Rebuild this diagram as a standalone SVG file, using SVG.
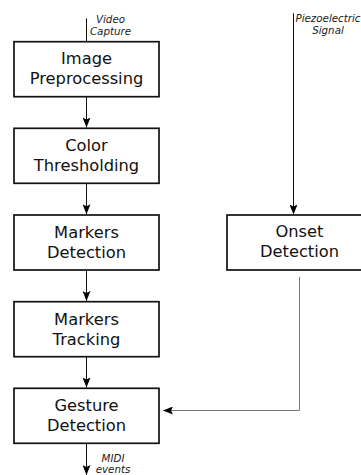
<svg xmlns="http://www.w3.org/2000/svg" width="361" height="475" viewBox="0 0 361 475">
<style>
.box{fill:#fff;stroke:#111;stroke-width:1.7}
.lbl{font-family:"DejaVu Sans",sans-serif;font-size:16.3px;fill:#111;text-anchor:middle}
.io{font-family:"DejaVu Sans",sans-serif;font-size:10.3px;font-style:italic;fill:#222;text-anchor:middle}
.ln{fill:none;stroke:#111;stroke-width:1}
.gr{fill:none;stroke:#777;stroke-width:1}
</style>
<defs>
<marker id="ah" viewBox="0 0 10 8" refX="10" refY="4" markerWidth="10" markerHeight="8" markerUnits="userSpaceOnUse" orient="auto">
<path d="M0,0 L10,4 L0,8 L2,4 Z" fill="#000"/>
</marker>
</defs>
<g id="connectors">
<path class="ln" d="M86.5,18.3 V41.7"/>
<path class="ln" d="M86.5,96.7 V127.5" marker-end="url(#ah)"/>
<path class="ln" d="M86.5,183.3 V214.2" marker-end="url(#ah)"/>
<path class="ln" d="M86.5,270 V300.9" marker-end="url(#ah)"/>
<path class="ln" d="M86.5,356.3 V387.5" marker-end="url(#ah)"/>
<path class="ln" d="M86.5,443.3 V475" marker-end="url(#ah)"/>
<path class="ln" d="M293.5,13.3 V214.5" marker-end="url(#ah)"/>
<path class="gr" d="M299.5,277 V410.5 H163" marker-end="url(#ah)"/>
</g>
<g id="io-labels">
<text class="io" x="110.5" y="22.5">Video</text>
<text class="io" x="110.5" y="34.5">Capture</text>
<text class="io" x="328" y="21.5">Piezoelectric</text>
<text class="io" x="328" y="33.5">Signal</text>
<text class="io" x="113" y="461.5">MIDI</text>
<text class="io" x="113" y="473.3">events</text>
</g>
<g id="image-preprocessing">
<rect class="box" x="14" y="41.7" width="145" height="55"/>
<text class="lbl" x="86.5" y="64.3">Image</text>
<text class="lbl" x="86.5" y="84.3">Preprocessing</text>
</g>
<g id="color-thresholding">
<rect class="box" x="14" y="128.3" width="145" height="55"/>
<text class="lbl" x="86.5" y="151.3">Color</text>
<text class="lbl" x="86.5" y="171.3">Thresholding</text>
</g>
<g id="markers-detection">
<rect class="box" x="14" y="215" width="145" height="55"/>
<text class="lbl" x="86.5" y="238">Markers</text>
<text class="lbl" x="86.5" y="258">Detection</text>
</g>
<g id="markers-tracking">
<rect class="box" x="14" y="301.7" width="145" height="55"/>
<text class="lbl" x="86.5" y="324.7">Markers</text>
<text class="lbl" x="86.5" y="344.7">Tracking</text>
</g>
<g id="gesture-detection">
<rect class="box" x="14" y="388.3" width="145" height="55"/>
<text class="lbl" x="86.5" y="411.3">Gesture</text>
<text class="lbl" x="86.5" y="431.3">Detection</text>
</g>
<g id="onset-detection">
<rect class="box" x="227" y="215" width="145" height="55"/>
<text class="lbl" x="299.5" y="236.5">Onset</text>
<text class="lbl" x="299.5" y="256.7">Detection</text>
</g>
</svg>
